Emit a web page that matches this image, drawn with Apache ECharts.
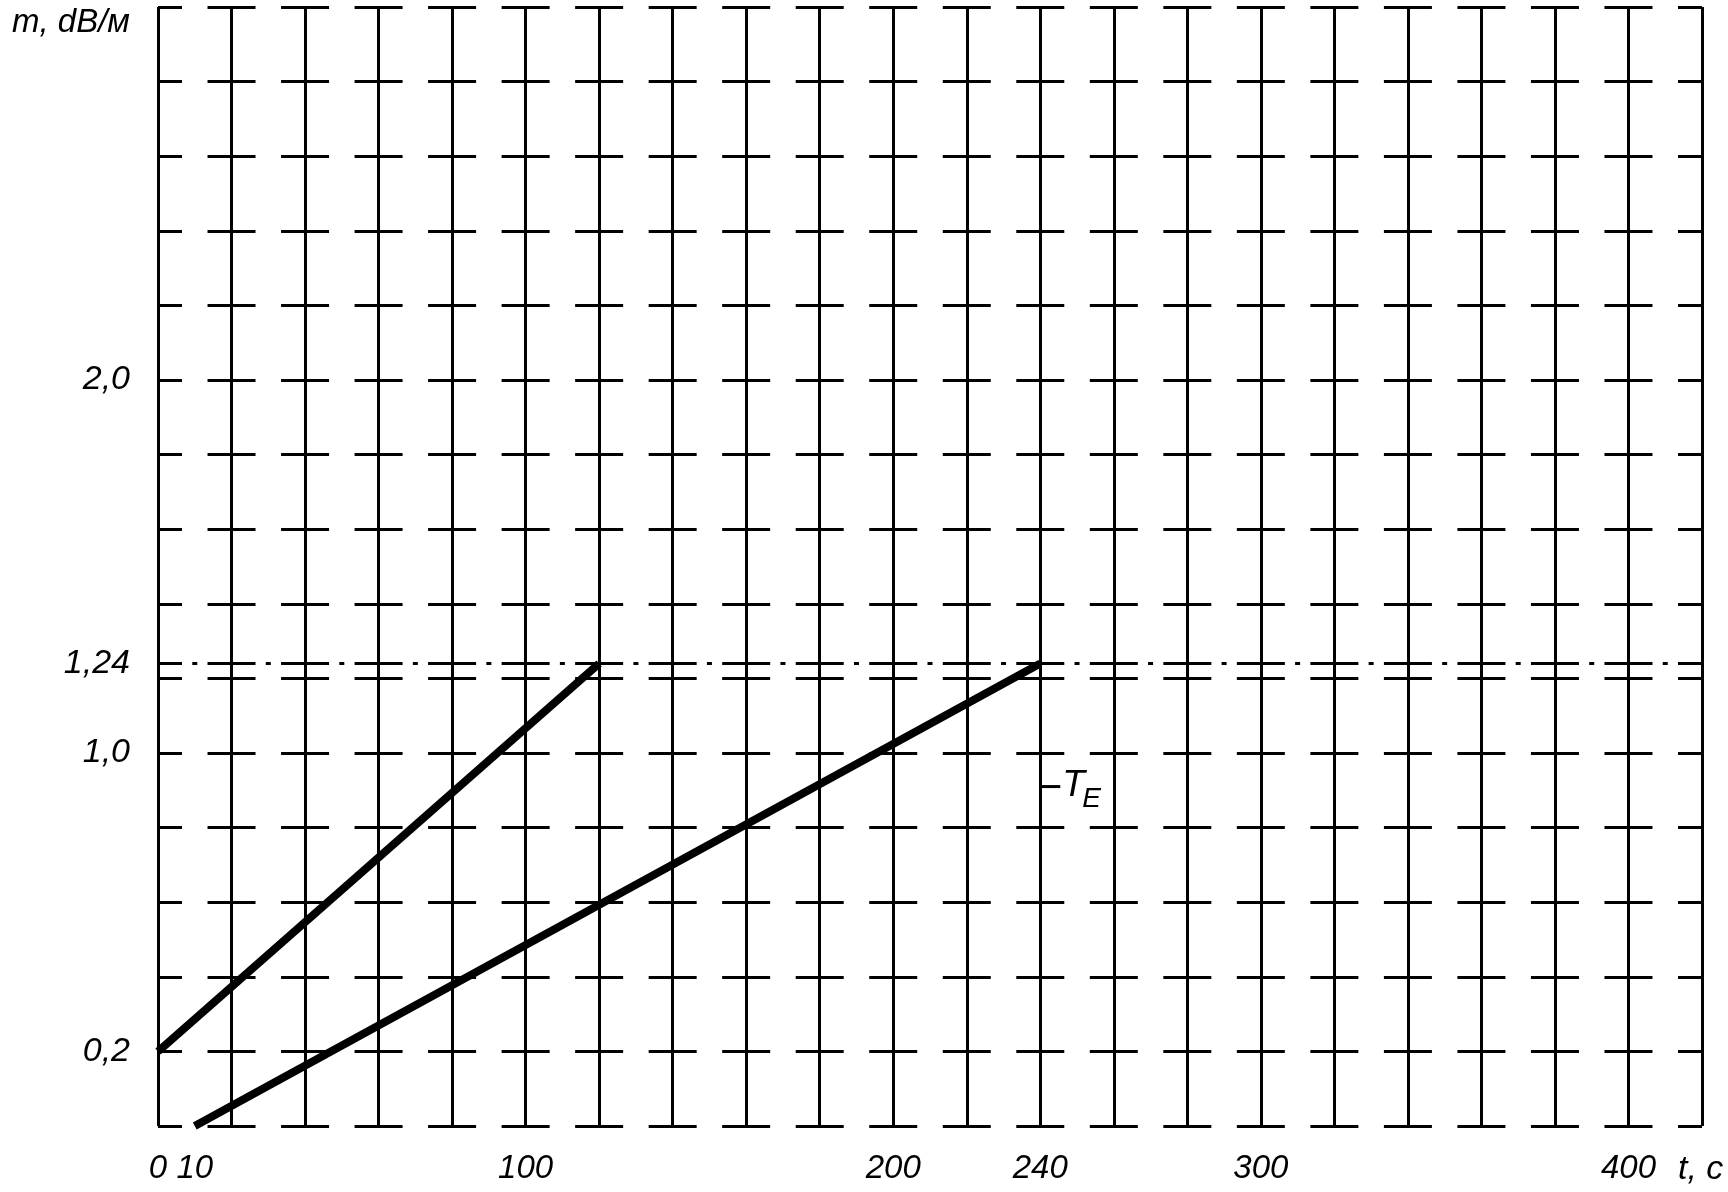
<!DOCTYPE html>
<html><head><meta charset="utf-8">
<script src="https://cdn.jsdelivr.net/npm/echarts@6/dist/echarts.min.js"></script>
<style>html,body{margin:0;padding:0;background:#fff}#c{width:1728px;height:1192px}</style>
</head><body><div id="c"></div>
<script>
// ---- data ----
const timeLabels = [0, 10, 100, 200, 240, 300, 400];
const attenLabels = [0.2, 1.0, 1.24, 2.0];
const curveA = [[0, 0.2], [120, 1.24]];
const curveB = [[10, 0], [240, 1.24]];
const limitLevel = 1.24;
const tePoint = [240, 0.91];
const xTitle = 't, c';
const yTitle = 'm, dB/м';

// ---- layout ----
const X_MAX = 420, X_STEP = 20, Y_MAX = 3.0, Y_STEP = 0.2;
const G = {left: 158, right: 26, top: 7, bottom: 66};
const W = 1728 - G.left - G.right;
const period = W / (X_MAX / X_STEP);
const DASH = 48;
const NARROW = '"Liberation Sans Narrow", "Liberation Sans", sans-serif';
const WIDE = '"Liberation Sans", sans-serif';

const fmtY = v => {
  const s = Math.abs(v - Math.round(v)) < 1e-9 ? v.toFixed(1) : String(+v.toFixed(2));
  return s.replace('.', ',');
};

const chart = echarts.init(document.getElementById('c'), null, {renderer: 'canvas'});
chart.setOption({
  animation: false,
  backgroundColor: '#fff',
  grid: {left: G.left, right: G.right, top: G.top, bottom: G.bottom, containLabel: false},
  xAxis: {
    type: 'value', min: 0, max: X_MAX, interval: X_STEP,
    axisLine: {show: false}, axisTick: {show: false},
    axisLabel: {
      customValues: timeLabels, margin: 26,
      fontFamily: NARROW, fontStyle: 'italic', fontSize: 33, color: '#000'
    },
    splitLine: {show: true, lineStyle: {color: '#000', width: 3, type: 'solid'}}
  },
  yAxis: {
    type: 'value', min: 0, max: Y_MAX, interval: Y_STEP,
    axisLine: {show: false}, axisTick: {show: false},
    axisLabel: {
      customValues: attenLabels, margin: 28, formatter: fmtY,
      fontFamily: NARROW, fontStyle: 'italic', fontSize: 34, color: '#000'
    },
    splitLine: {show: true, lineStyle: {color: '#000', width: 3,
      type: [DASH, period - DASH], dashOffset: DASH / 2}}
  },
  series: [
    {
      type: 'line', data: curveA, symbol: 'none', silent: true,
      lineStyle: {color: '#000', width: 8},
      markLine: {
        silent: true, symbol: ['none', 'none'], label: {show: false},
        lineStyle: {color: '#000', width: 3,
          type: [DASH, (period - DASH - 5) / 2, 5, (period - DASH - 5) / 2], dashOffset: DASH / 2},
        data: [{yAxis: limitLevel}]
      }
    },
    {
      type: 'line', data: curveB, symbol: 'none', silent: true,
      lineStyle: {color: '#000', width: 8}
    }
  ]
});

const p = chart.convertToPixel({gridIndex: 0}, tePoint);
const pEnd = chart.convertToPixel({gridIndex: 0}, [X_MAX, 0]);
chart.setOption({
  graphic: [
    {type: 'line', shape: {x1: p[0], y1: p[1], x2: p[0] + 20, y2: p[1]},
     style: {stroke: '#000', lineWidth: 3}},
    {type: 'text', x: p[0] + 22, y: p[1] - 1,
     style: {text: 'T', font: 'italic 37px ' + NARROW, fill: '#000', verticalAlign: 'middle', align: 'left'}},
    {type: 'text', x: p[0] + 42, y: p[1] + 13,
     style: {text: 'E', font: 'italic 28px ' + NARROW, fill: '#000', verticalAlign: 'middle', align: 'left'}},
    {type: 'text', x: 12, y: 23,
     style: {text: yTitle, font: 'italic 33px ' + WIDE, fill: '#000', verticalAlign: 'middle', align: 'left'}},
    {type: 'text', x: pEnd[0] - 24, y: pEnd[1] + 44,
     style: {text: xTitle, font: 'italic 34px ' + WIDE, fill: '#000', verticalAlign: 'middle', align: 'left'}}
  ]
});
</script></body></html>
